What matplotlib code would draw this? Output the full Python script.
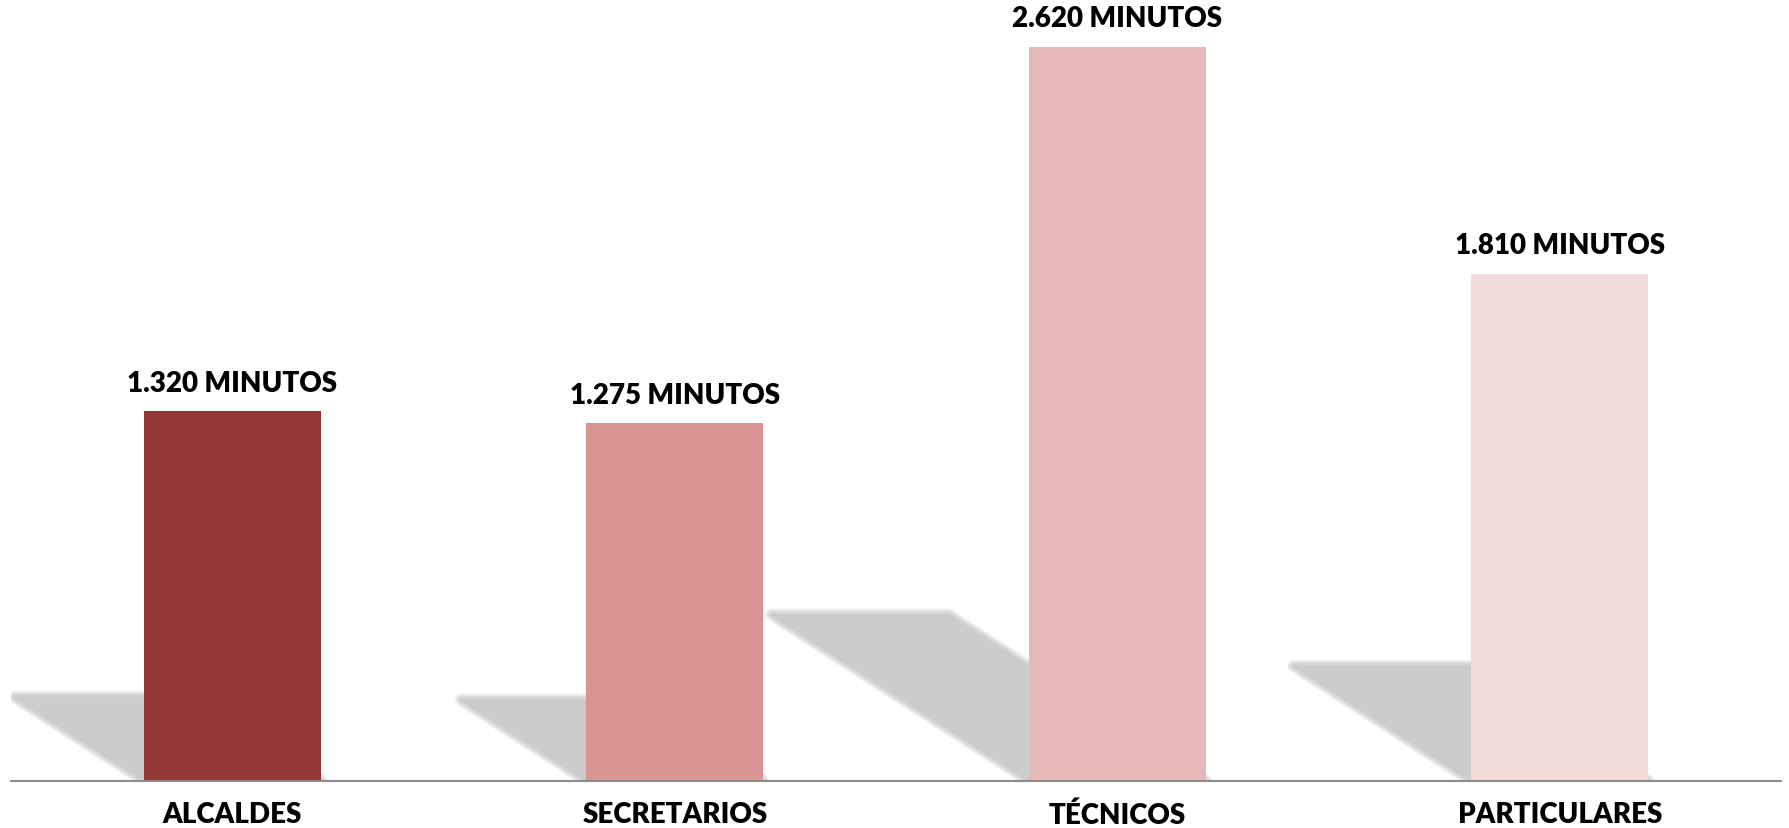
import matplotlib
matplotlib.use("Agg")
import matplotlib.pyplot as plt
from matplotlib.patches import Polygon

categories = ["ALCALDES", "SECRETARIOS", "TÉCNICOS", "PARTICULARES"]
values = [1320, 1275, 2620, 1810]
value_labels = ["1.320 MINUTOS", "1.275 MINUTOS", "2.620 MINUTOS", "1.810 MINUTOS"]
colors = ["#943634", "#D99594", "#E6B8B7", "#F2DCDB"]

FONT = ["Lato", "DejaVu Sans"]

fig = plt.figure(figsize=(17.89, 8.29), dpi=100)
ax = fig.add_axes([0.0062, 0.0571, 0.9893, 0.9429])

x = list(range(len(categories)))
width = 0.4
bars = ax.bar(x, values, width=width, color=colors, zorder=3)

# soft shadows (sheared projection of each bar onto the floor)
shear_x = 0.000222
shear_y = 0.226
for xi, v in zip(x, values):
    x0, x1 = xi - width / 2, xi + width / 2
    pts = [(x0, 0), (x1, 0), (x1 - shear_x * v, shear_y * v), (x0 - shear_x * v, shear_y * v)]
    n = 8
    for k in range(n):
        lw = 9 * (1 - k / n)
        ax.add_patch(Polygon(pts, closed=True, facecolor="#c8c8c8", edgecolor="#c8c8c8",
                             linewidth=lw, alpha=0.18, zorder=1, joinstyle="round"))
    ax.add_patch(Polygon(pts, closed=True, facecolor="#cccccc", edgecolor="none", zorder=2))

for xi, v, lab in zip(x, values, value_labels):
    ax.annotate(lab, (xi, v), xytext=(0, 11), textcoords="offset points",
                ha="center", va="bottom", fontsize=20, fontweight="heavy",
                family=FONT, color="black", zorder=5)

ax.set_xlim(-0.5, 3.5)
ax.set_ylim(0, 2790)
ax.set_xticks(x)
ax.set_xticklabels(categories, fontsize=20, fontweight="heavy", family=FONT)
ax.tick_params(axis="x", length=0, pad=15)
ax.set_yticks([])
for s in ["top", "right", "left"]:
    ax.spines[s].set_visible(False)
ax.spines["bottom"].set_color("#8c8c8c")
ax.spines["bottom"].set_linewidth(1.5)
ax.spines["bottom"].set_zorder(4)
ax.patch.set_alpha(0)

fig.savefig("out.png", dpi=100, facecolor="white")
